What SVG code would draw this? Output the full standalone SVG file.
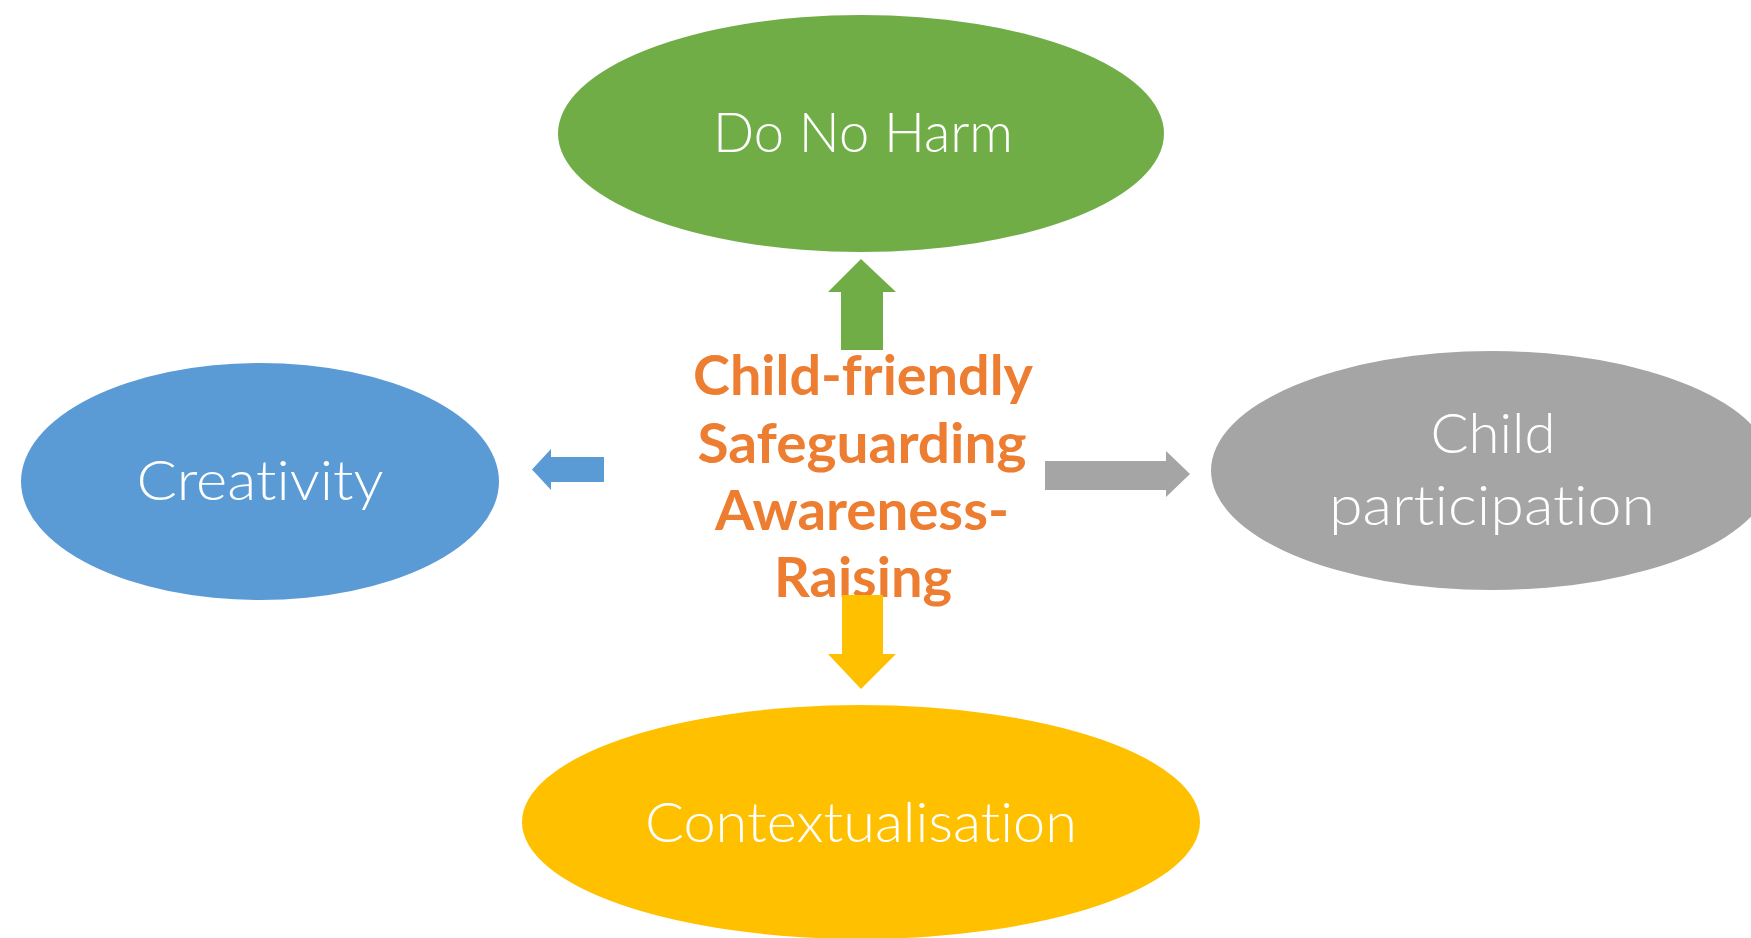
<svg xmlns="http://www.w3.org/2000/svg" width="1751" height="938" viewBox="0 0 1751 938">
<style>
.lbl{font-family:Lato,"Open Sans","Liberation Sans",sans-serif;font-weight:300;font-size:56px;fill:#FFFFFF;text-anchor:middle;font-variant-ligatures:none;font-feature-settings:"liga" 0,"clig" 0}
.ctr{font-family:Lato,"Open Sans","Liberation Sans",sans-serif;font-weight:700;font-size:56px;fill:#ED7D31;text-anchor:middle;font-variant-ligatures:none;font-feature-settings:"liga" 0,"clig" 0}
</style>
<rect width="1751" height="938" fill="#FFFFFF"/>
<g id="center">
<text class="ctr" x="863" y="395" textLength="340" lengthAdjust="spacingAndGlyphs">Child-friendly</text>
<text class="ctr" x="862" y="463" textLength="329" lengthAdjust="spacingAndGlyphs">Safeguarding</text>
<text class="ctr" x="862" y="530" textLength="294" lengthAdjust="spacingAndGlyphs">Awareness-</text>
<text class="ctr" x="863" y="597" textLength="178" lengthAdjust="spacingAndGlyphs">Raising</text>
</g>
<g id="node-do-no-harm">
<ellipse cx="861" cy="133.5" rx="303" ry="118.5" fill="#70AD47"/>
<text class="lbl" x="863" y="152" textLength="300" lengthAdjust="spacingAndGlyphs">Do No Harm</text>
</g>
<g id="node-creativity">
<ellipse cx="260" cy="481.5" rx="239" ry="118.5" fill="#5B9BD5"/>
<text class="lbl" x="260" y="500" textLength="247" lengthAdjust="spacingAndGlyphs">Creativity</text>
</g>
<g id="node-child-participation">
<ellipse cx="1492" cy="470.5" rx="281" ry="119.5" fill="#A5A5A5"/>
<text class="lbl" x="1493" y="453" textLength="125" lengthAdjust="spacingAndGlyphs">Child</text>
<text class="lbl" x="1492" y="525" textLength="326" lengthAdjust="spacingAndGlyphs">participation</text>
</g>
<g id="node-contextualisation">
<ellipse cx="861" cy="822" rx="339" ry="117" fill="#FFC000"/>
<text class="lbl" x="861" y="842" textLength="432" lengthAdjust="spacingAndGlyphs">Contextualisation</text>
</g>
<g id="connectors">
<polygon points="861,259 896,292 883,292 883,350 841,350 841,292 828,292" fill="#70AD47"/>
<polygon points="532,469.5 551,449 551,457 604,457 604,482 551,482 551,490" fill="#5B9BD5"/>
<polygon points="1190,474 1166,451 1166,461 1045,461 1045,490 1166,490 1166,497" fill="#A5A5A5"/>
<polygon points="861,689 896,654 883,654 883,595 842,595 842,654 828,654" fill="#FFC000"/>
</g>
</svg>
